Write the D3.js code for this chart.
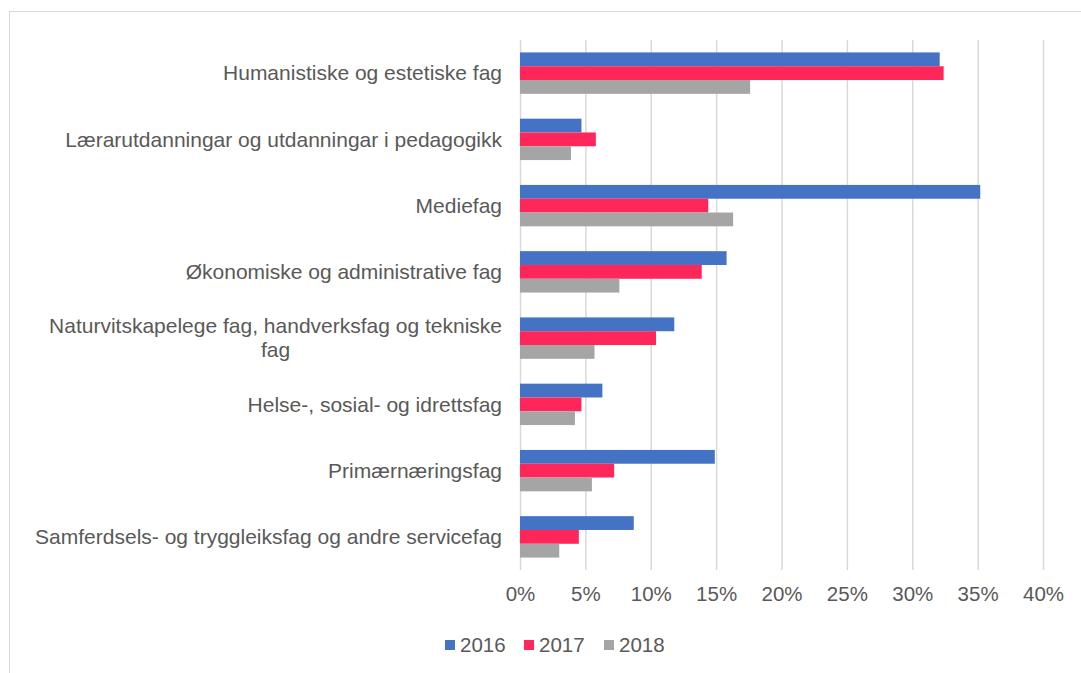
<!DOCTYPE html>
<html>
<head>
<meta charset="utf-8">
<script src="https://cdn.jsdelivr.net/npm/d3@7"></script>
<style>
  body { margin: 0; background: #fff; }
  svg { display: block; font-family: "Liberation Sans", Arial, sans-serif; }
</style>
</head>
<body>
<div id="chart"></div>
<script>
var categories = [
  "Humanistiske og estetiske fag",
  "Lærarutdanningar og utdanningar i pedagogikk",
  "Mediefag",
  "Økonomiske og administrative fag",
  "Naturvitskapelege fag, handverksfag og tekniske fag",
  "Helse-, sosial- og idrettsfag",
  "Primærnæringsfag",
  "Samferdsels- og tryggleiksfag og andre servicefag"
];
var years = ["2016", "2017", "2018"];
var values2016 = [0.321, 0.047, 0.352, 0.158, 0.118, 0.063, 0.149, 0.087];
var values2017 = [0.324, 0.058, 0.144, 0.139, 0.104, 0.047, 0.072, 0.045];
var values2018 = [0.176, 0.039, 0.163, 0.076, 0.057, 0.042, 0.055, 0.030];
var xTicks = [0, 0.05, 0.10, 0.15, 0.20, 0.25, 0.30, 0.35, 0.40];

var colorTheme = ["#4472C4", "#FF2659", "#A5A5A5"];
var textColor = "#595959";

var width = 1081, height = 673;
var plot = { left: 520, right: 1043, top: 40, bottom: 570 };

var svg = d3.select("#chart").append("svg")
  .attr("width", width)
  .attr("height", height);

// chart frame
svg.append("rect")
  .attr("x", 9.5).attr("y", 11.5)
  .attr("width", 1100).attr("height", 700)
  .attr("fill", "#fff")
  .attr("stroke", "#d9d9d9")
  .attr("stroke-width", 1);

var x = d3.scaleLinear()
  .domain([0, 0.4])
  .range([plot.left, plot.right]);

var y = d3.scaleBand()
  .domain(categories)
  .range([plot.top, plot.bottom])
  .paddingInner(0.375)
  .paddingOuter(0.1875);

var ySub = d3.scaleBand()
  .domain(years)
  .range([0, y.bandwidth()]);

var color = d3.scaleOrdinal().domain(years).range(colorTheme);

// gridlines + x axis
var xAxis = svg.append("g")
  .attr("transform", "translate(0," + plot.bottom + ")")
  .call(d3.axisBottom(x)
    .tickValues(xTicks)
    .tickSize(-(plot.bottom - plot.top))
    .tickPadding(16)
    .tickFormat(d3.format(".0%")));
xAxis.select(".domain").remove();
xAxis.selectAll("line")
  .attr("stroke", "#d9d9d9")
  .attr("stroke-width", 1.5);
xAxis.selectAll("text")
  .attr("fill", textColor)
  .style("font-size", "20.5px")
  .style("font-family", "'Liberation Sans', Arial, sans-serif");

// bars
var data = categories.map(function(c, i) {
  return { category: c, values: [values2016[i], values2017[i], values2018[i]] };
});

var groups = svg.append("g")
  .selectAll("g")
  .data(data)
  .enter().append("g")
  .attr("transform", function(d) { return "translate(0," + y(d.category) + ")"; });

groups.selectAll("rect")
  .data(function(d) {
    return years.map(function(yr, j) { return { year: yr, value: d.values[j] }; });
  })
  .enter().append("rect")
  .attr("x", x(0))
  .attr("y", function(d) { return ySub(d.year); })
  .attr("width", function(d) { return x(d.value) - x(0); })
  .attr("height", ySub.bandwidth())
  .attr("fill", function(d) { return color(d.year); });

// category labels (wrapped like the original, lines centred on the block)
var labelRight = 502;
var labelSize = "21px";
var wrapped = {
  "Naturvitskapelege fag, handverksfag og tekniske fag": ["Naturvitskapelege fag, handverksfag og tekniske", "fag"]
};

categories.forEach(function(c) {
  var cy = y(c) + y.bandwidth() / 2;
  var lines = wrapped[c] || [c];
  if (lines.length === 1) {
    svg.append("text")
      .attr("x", labelRight)
      .attr("y", cy)
      .attr("dy", "0.35em")
      .attr("text-anchor", "end")
      .attr("fill", textColor)
      .style("font-size", labelSize)
      .text(c);
  } else {
    var tmp = svg.append("text").style("font-size", labelSize).text(lines[0]);
    var w = tmp.node().getComputedTextLength();
    tmp.remove();
    var mid = labelRight - w / 2;
    var lh = 24;
    lines.forEach(function(line, k) {
      svg.append("text")
        .attr("x", mid)
        .attr("y", cy + (k - (lines.length - 1) / 2) * lh)
        .attr("dy", "0.35em")
        .attr("text-anchor", "middle")
        .attr("fill", textColor)
        .style("font-size", labelSize)
        .text(line);
    });
  }
});

// legend
var legendX = [445, 524, 604];
var legend = svg.append("g")
  .selectAll("g")
  .data(years)
  .enter().append("g")
  .attr("transform", function(d, i) { return "translate(" + legendX[i] + ",640)"; });

legend.append("rect")
  .attr("width", 10)
  .attr("height", 10)
  .attr("fill", color);

legend.append("text")
  .attr("x", 15)
  .attr("y", 5)
  .attr("dy", "0.35em")
  .attr("fill", textColor)
  .style("font-size", "20.5px")
  .text(function(d) { return d; });
</script>
</body>
</html>
